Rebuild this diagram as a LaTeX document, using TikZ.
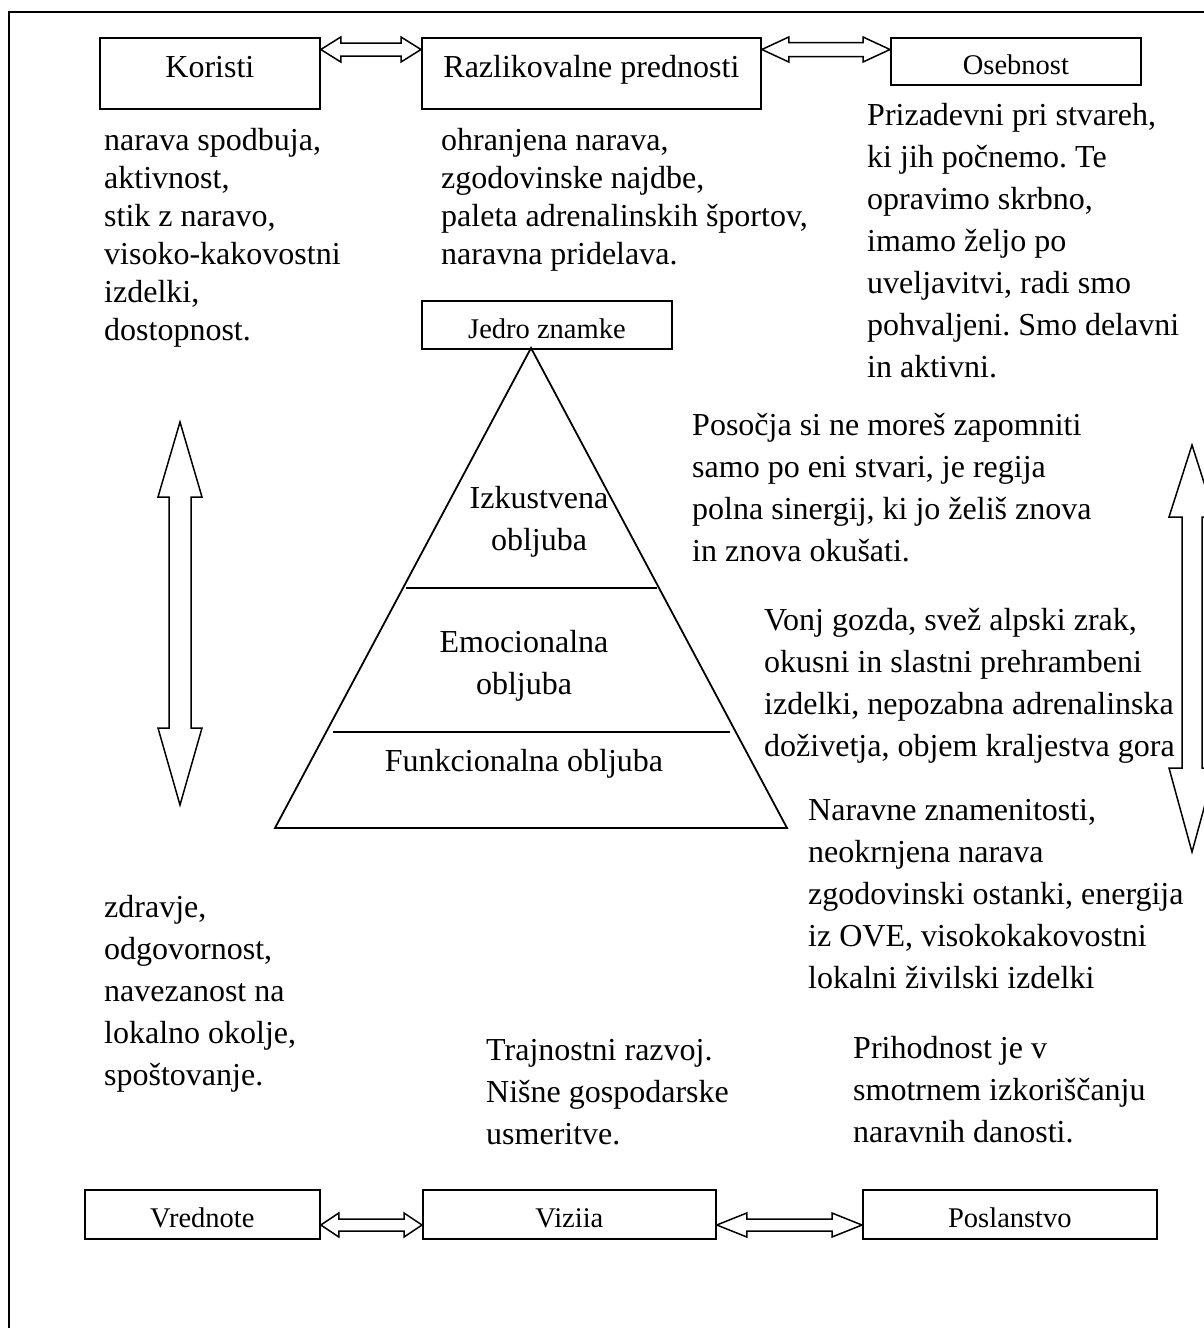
\documentclass[tikz,border=0pt]{standalone}
\usepackage{fontspec}
\setmainfont{Liberation Serif}
\usetikzlibrary{calc}

\newcommand\bodysize{\fontsize{32}{42}\selectfont\frenchspacing}
\newcommand\tightsize{\fontsize{32}{38}\selectfont\frenchspacing}
\newcommand\pyrsize{\fontsize{32}{42}\selectfont}
\newcommand\smallsize{\fontsize{28.5}{34}\selectfont}

% left-aligned block of lines, baseline of the first line is the node's base
\newcommand\leftlines[1]{\parbox[t]{420pt}{\raggedright #1\par}}
\newcommand\midlines[1]{\parbox[t]{320pt}{\centering #1\par}}

% horizontal hollow double arrow between two tip points
% #1,#2 tips, #3 head length, #4 head half height, #5 shaft half height
\newcommand\hdouble[5]{%
  \path[blk] let \p1=#1, \p2=#2 in
    (\p1) -- ($(\p1)+(#3,-#4)$) -- ($(\p1)+(#3,-#5)$) -- ($(\p2)+(-#3,-#5)$)
    -- ($(\p2)+(-#3,-#4)$) -- (\p2) -- ($(\p2)+(-#3,#4)$) -- ($(\p2)+(-#3,#5)$)
    -- ($(\p1)+(#3,#5)$) -- ($(\p1)+(#3,#4)$) -- cycle;}

% vertical hollow double arrow
% #1 top tip, #2 bottom tip, #3 top head length, #4 bottom head length,
% #5 head half width, #6 shaft half width
\newcommand\vdouble[6]{%
  \path[blk] let \p1=#1, \p2=#2 in
    (\p1) -- ($(\p1)+(#5,#3)$) -- ($(\p1)+(#6,#3)$) -- ($(\p2)+(#6,-#4)$)
    -- ($(\p2)+(#5,-#4)$) -- (\p2) -- ($(\p2)+(-#5,-#4)$) -- ($(\p2)+(-#6,-#4)$)
    -- ($(\p1)+(-#6,#3)$) -- ($(\p1)+(-#5,#3)$) -- cycle;}

\begin{document}
\begin{tikzpicture}[x=1pt,y=-1pt,
  frame/.style={line width=1.8pt},
  bigbox/.style={draw, line width=1.8pt, inner sep=0pt, anchor=north west,
    font=\bodysize, text height=22pt, text depth=13pt},
  smallbox/.style={draw, line width=1.8pt, inner sep=0pt, anchor=north west,
    font=\smallsize, text height=27pt, text depth=0pt},
  blk/.style={draw, line width=1.5pt, fill=white},
  txt/.style={anchor=base west, inner sep=0pt, font=\bodysize},
  ttxt/.style={anchor=base west, inner sep=0pt, font=\tightsize},
  ptxt/.style={anchor=base, inner sep=0pt, font=\pyrsize},
  pline/.style={line width=1.8pt}]

\useasboundingbox (0,0) rectangle (1203,1328);

% outer frame
\draw[frame] (9,1340) -- (9,12) -- (1215,12);

% top row of boxes
\node[bigbox, minimum width=220pt, minimum height=71pt] (kor) at (99,37) {Koristi};
\node[bigbox, minimum width=339pt, minimum height=71pt] (raz) at (421,37) {Razlikovalne prednosti};
\node[smallbox, minimum width=250pt, minimum height=47pt] (oseb) at (890,37) {Osebnost};

\hdouble{(kor.east |- 0,49.5)}{(raz.west |- 0,49.5)}{20}{12.5}{6.5}
\hdouble{(raz.east |- 0,49.5)}{(oseb.west |- 0,49.5)}{27}{12.5}{7}

% descriptions under the top boxes
\node[ttxt] (t-kor) at (104,150) {\leftlines{narava spodbuja,\\aktivnost,\\stik z naravo,\\visoko-kakovostni\\izdelki,\\dostopnost.}};
\node[ttxt] (t-raz) at (441,150) {\leftlines{ohranjena narava,\\zgodovinske najdbe,\\paleta adrenalinskih športov,\\naravna pridelava.}};
\node[txt] (t-oseb) at (867,125) {\leftlines{Prizadevni pri stvareh,\\ki jih počnemo. Te\\opravimo skrbno,\\imamo željo po\\uveljavitvi, radi smo\\pohvaljeni. Smo delavni\\in aktivni.}};

% brand core and pyramid
\node[smallbox, minimum width=250pt, minimum height=48pt] (jedro) at (421,300) {Jedro znamke};
\coordinate (apex) at (531,348);
\coordinate (baseL) at (275,828);
\coordinate (baseR) at (787,828);
\draw[pline] (apex) -- (baseR) -- (baseL) -- cycle;
\draw[pline] (406,588) -- (657,588);
\draw[pline] (333,732) -- (730,732);

\node[ptxt] (izk) at (539,508) {\midlines{Izkustvena\\obljuba}};
\node[ptxt] (emo) at (524,652) {\midlines{Emocionalna\\obljuba}};
\node[ptxt] (fun) at (524,771) {Funkcionalna obljuba};

% texts beside the pyramid
\node[txt] (t-izk) at (692,435) {\leftlines{Posočja si ne moreš zapomniti\\samo po eni stvari, je regija\\polna sinergij, ki jo želiš znova\\in znova okušati.}};
\node[txt] (t-emo) at (764,630) {\leftlines{Vonj gozda, svež alpski zrak,\\okusni in slastni prehrambeni\\izdelki, nepozabna adrenalinska\\doživetja, objem kraljestva gora}};
\node[txt] (t-fun) at (808,820) {\leftlines{Naravne znamenitosti,\\neokrnjena narava\\zgodovinski ostanki, energija\\iz OVE, visokokakovostni\\lokalni živilski izdelki}};

% vertical double arrows
\coordinate (lt) at (180,422);
\coordinate (lb) at (180,805);
\vdouble{(lt)}{(lb)}{75}{77}{22}{11}
\coordinate (rt) at (1192,445);
\coordinate (rb) at (1192,852);
\vdouble{(rt)}{(rb)}{72}{84}{23}{10}

% descriptions above the bottom boxes
\node[txt] (t-vre) at (104,917) {\leftlines{zdravje,\\odgovornost,\\navezanost na\\lokalno okolje,\\spoštovanje.}};
\node[txt] (t-viz) at (486,1060) {\leftlines{Trajnostni razvoj.\\Nišne gospodarske\\usmeritve.}};
\node[txt] (t-pos) at (853,1058) {\leftlines{Prihodnost je v\\smotrnem izkoriščanju\\naravnih danosti.}};

% bottom row of boxes
\node[smallbox, minimum width=235pt, minimum height=49pt] (vre) at (84,1189) {Vrednote};
\node[smallbox, minimum width=293pt, minimum height=49pt] (viz) at (422,1189) {Viziia};
\node[smallbox, minimum width=294pt, minimum height=49pt] (pos) at (862,1189) {Poslanstvo};

\hdouble{(vre.east |- 0,1225)}{(viz.west |- 0,1225)}{18}{12}{6}
\hdouble{(viz.east |- 0,1225)}{(pos.west |- 0,1225)}{30}{12}{6}

\end{tikzpicture}
\end{document}
